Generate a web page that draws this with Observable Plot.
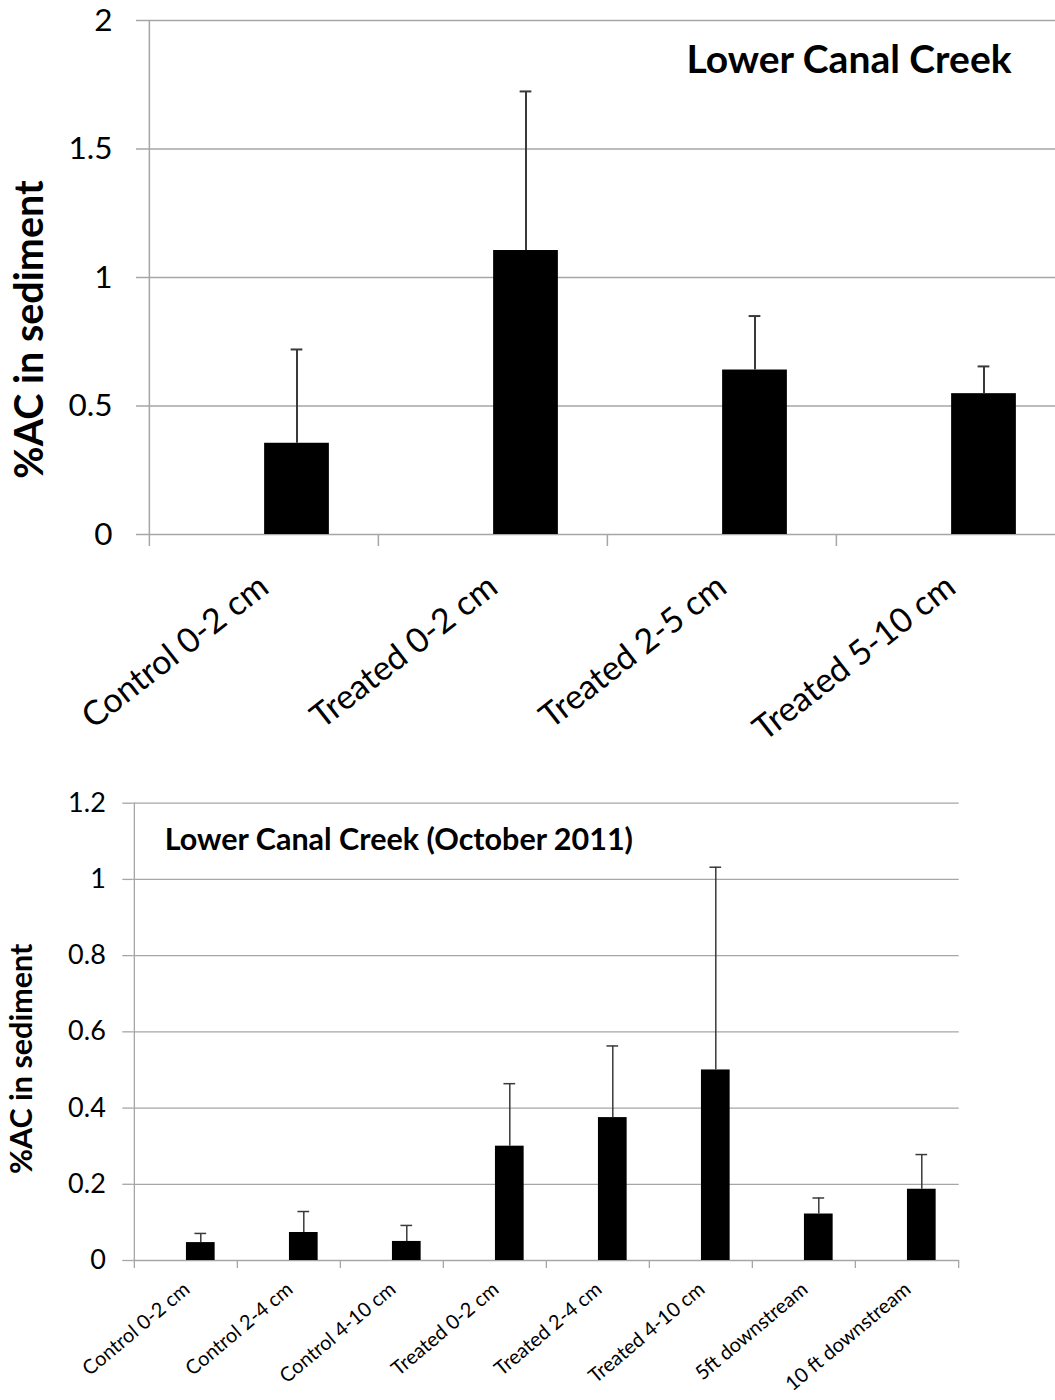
<!DOCTYPE html>
<html><head><meta charset="utf-8">
<script src="https://cdn.jsdelivr.net/npm/d3@7"></script>
<script src="https://cdn.jsdelivr.net/npm/@observablehq/plot@0.6"></script>
<style>body{margin:0;background:#fff;} svg{display:block;}</style>
</head><body><div id="chart"></div>
<script>
// ---- Data ----
const yLabel = "%AC in sediment";

const topTitle = "Lower Canal Creek";
const topCategories = ["Control 0-2 cm", "Treated 0-2 cm", "Treated 2-5 cm", "Treated 5-10 cm"];
const topMeans = [0.355, 1.105, 0.640, 0.548];
const topErrors = [0.365, 0.619, 0.210, 0.106];
const topTicks = [0, 0.5, 1, 1.5, 2];

const bottomTitle = "Lower Canal Creek (October 2011)";
const bottomCategories = ["Control 0-2 cm", "Control 2-4 cm", "Control 4-10 cm", "Treated 0-2 cm",
  "Treated 2-4 cm", "Treated 4-10 cm", "5ft downstream", "10 ft downstream"];
const bottomMeans = [0.047, 0.0735, 0.050, 0.300, 0.375, 0.500, 0.122, 0.187];
const bottomErrors = [0.024, 0.055, 0.042, 0.164, 0.188, 0.532, 0.042, 0.091];
const bottomTicks = [0, 0.2, 0.4, 0.6, 0.8, 1, 1.2];

// ---- Chart builder ----
function chart(cfg) {
  const data = cfg.categories.map((c, i) => ({cat: c, mean: cfg.means[i], err: cfg.errors[i]}));
  const [x0, x1] = cfg.xRange;
  const bw = (x1 - x0) / cfg.categories.length;
  const grid = "#a6a6a6";
  const errColor = "#3a3a3a";
  const yMax = cfg.ticks[cfg.ticks.length - 1];
  return Plot.plot({
    width: 1055,
    height: cfg.height,
    marginLeft: x0,
    marginRight: Math.max(0, 1055 - x1),
    marginTop: cfg.yRange[1],
    marginBottom: cfg.height - cfg.yRange[0],
    x: {domain: cfg.categories, range: [x0, x1], padding: 0},
    y: {domain: [0, yMax], range: cfg.yRange},
    style: {fontFamily: "Lato, sans-serif", background: "white", overflow: "visible", color: "black"},
    marks: [
      Plot.gridY(cfg.ticks, {stroke: grid, strokeOpacity: 1, strokeWidth: cfg.lineW}),
      Plot.ruleX([cfg.categories[0]], {x: d => d, y1: 0, y2: yMax, dx: -bw / 2, stroke: grid, strokeWidth: cfg.lineW}),
      Plot.axisY(cfg.ticks, {tickSize: cfg.tickSize, tickPadding: cfg.yTickPadding, stroke: grid, strokeWidth: cfg.lineW,
        fill: "black", fontSize: cfg.yTickFont, tickFormat: d => String(d), label: null}),
      Plot.axisX(cfg.categories, {tickSize: cfg.xTickSize, dx: -bw / 2, stroke: grid, strokeWidth: cfg.lineW,
        tickFormat: () => "", label: null}),
      Plot.axisX([cfg.categories[cfg.categories.length - 1]], {tickSize: cfg.xTickSize, dx: bw / 2, stroke: grid,
        strokeWidth: cfg.lineW, tickFormat: () => "", label: null}),
      Plot.barY(data, {x: "cat", y: "mean", fill: "black", insetLeft: (bw - cfg.barW) / 2,
        insetRight: (bw - cfg.barW) / 2, dx: cfg.barShift}),
      Plot.ruleX(data, {x: "cat", y1: "mean", y2: d => d.mean + d.err, dx: cfg.barShift, stroke: errColor, strokeWidth: cfg.errW}),
      Plot.tickY(data, {x: "cat", y: d => d.mean + d.err, dx: cfg.barShift, insetLeft: (bw - cfg.capW) / 2,
        insetRight: (bw - cfg.capW) / 2, stroke: errColor, strokeWidth: cfg.errW}),
      Plot.text(data, {x: "cat", text: "cat", frameAnchor: "bottom", rotate: cfg.labelRotate, textAnchor: "end", lineAnchor: "middle",
        dx: cfg.labelDx, dy: cfg.labelDy, fontSize: cfg.xLabelFont, fill: "black"}),
      Plot.text([yLabel], {frameAnchor: "left", rotate: -90, textAnchor: "middle", lineAnchor: "middle",
        dx: cfg.yLabelDx, dy: cfg.yLabelDy, fontSize: cfg.yLabelFont, fontWeight: "bold", fill: "black"}),
      Plot.text([cfg.title], {frameAnchor: "top-left", textAnchor: "start", lineAnchor: "middle",
        dx: cfg.titleDx, dy: cfg.titleDy, fontSize: cfg.titleFont, fontWeight: "bold", fill: "black"})
    ]
  });
}

const topChart = chart({
  title: topTitle, categories: topCategories, means: topMeans, errors: topErrors, ticks: topTicks,
  height: 760, xRange: [148, 1065], yRange: [534, 20],
  lineW: 1.5, tickSize: 12, xTickSize: 12, yTickPadding: 24, yTickFont: 31.5,
  barW: 65, barShift: 33, capW: 12, errW: 2,
  labelRotate: -38, labelDx: 0, labelDy: 48, xLabelFont: 34,
  yLabelDx: -118, yLabelDy: 52, yLabelFont: 39.5,
  titleDx: 538, titleDy: 40, titleFont: 39
});

const bottomChart = chart({
  title: bottomTitle, categories: bottomCategories, means: bottomMeans, errors: bottomErrors, ticks: bottomTicks,
  height: 640, xRange: [132.3, 958.7], yRange: [500, 42.7],
  lineW: 1.3, tickSize: 10, xTickSize: 8, yTickPadding: 17, yTickFont: 27,
  barW: 29, barShift: 14.8, capW: 12, errW: 1.5,
  labelRotate: -40, labelDx: 1, labelDy: 26, xLabelFont: 20,
  yLabelDx: -111, yLabelDy: 27, yLabelFont: 30.5,
  titleDx: 32, titleDy: 37, titleFont: 30.5
});

const root = document.getElementById("chart");
root.appendChild(topChart);
root.appendChild(bottomChart);
</script>
</body></html>
